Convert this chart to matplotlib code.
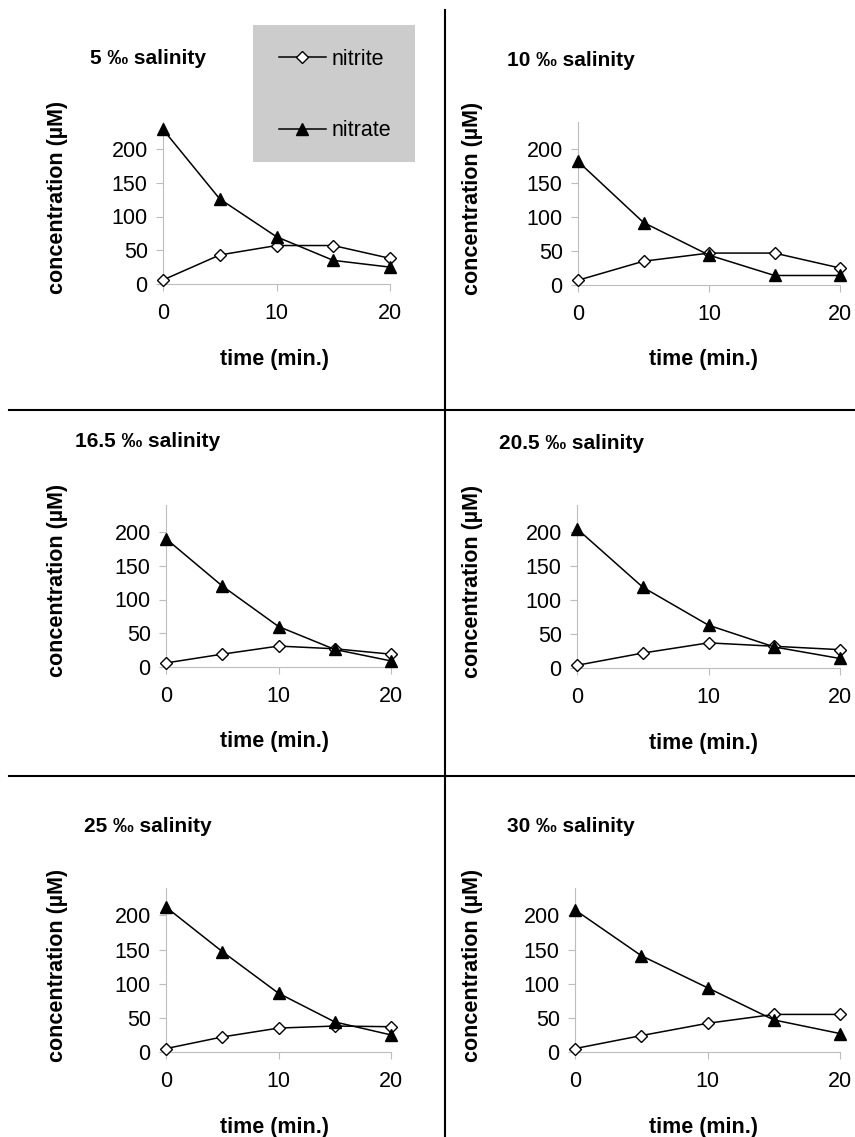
import matplotlib.pyplot as plt
from matplotlib.lines import Line2D
from matplotlib.patches import Rectangle

plt.rcParams['font.family'] = ['Liberation Sans', 'DejaVu Sans']

# time points (min.)
time = [0, 5, 10, 15, 20]

titles = ['5 ‰ salinity', '10 ‰ salinity', '16.5 ‰ salinity',
          '20.5 ‰ salinity', '25 ‰ salinity', '30 ‰ salinity']

# concentrations (uM)
nitrite_5 = [6, 43, 57, 57, 38]
nitrate_5 = [229, 126, 70, 35, 25]
nitrite_10 = [7, 35, 47, 47, 25]
nitrate_10 = [182, 92, 44, 14, 14]
nitrite_16 = [6, 19, 31, 27, 19]
nitrate_16 = [190, 120, 60, 26, 9]
nitrite_20 = [4, 22, 37, 32, 27]
nitrate_20 = [205, 119, 63, 31, 14]
nitrite_25 = [5, 22, 35, 38, 37]
nitrate_25 = [212, 147, 86, 44, 25]
nitrite_30 = [5, 24, 42, 55, 55]
nitrate_30 = [208, 141, 94, 47, 27]

nitrite = [nitrite_5, nitrite_10, nitrite_16, nitrite_20, nitrite_25, nitrite_30]
nitrate = [nitrate_5, nitrate_10, nitrate_16, nitrate_20, nitrate_25, nitrate_30]

W, H = 855, 1137
fig = plt.figure(figsize=(W / 100, H / 100), dpi=100)

def fx(x):
    return x / W

def fy(y):
    return 1 - y / H

# axes boxes in pixels: left, top, right, bottom
boxes = [(163, 122, 390, 284), (578, 122, 840, 285),
         (166, 505, 391, 667), (577, 505, 840, 668),
         (166, 888, 391, 1052), (575, 888, 840, 1052)]
title_x = [148, 571]
ylab_x = [58, 472]
xlab_x = [274, 703]

axis_grey = '#bdbdbd'
handles = None
for i, (l, t, r, b) in enumerate(boxes):
    col = i % 2
    ax = fig.add_axes([fx(l), fy(b), (r - l) / W, (b - t) / H])
    ax.set_facecolor('none')
    ln1, = ax.plot(time, nitrite[i], color='black', lw=1.1, marker='D', ms=6.5,
                   mfc='white', mec='black', mew=1, clip_on=False, zorder=3,
                   label='nitrite')
    ln2, = ax.plot(time, nitrate[i], color='black', lw=1.1, marker='^', ms=9,
                   mfc='black', mec='black', clip_on=False, zorder=3,
                   label='nitrate')
    if handles is None:
        handles = [ln1, ln2]
    ax.set_xlim(0, 20)
    ax.set_ylim(0, 240)
    ax.set_xticks([0, 10, 20])
    ax.set_yticks([0, 50, 100, 150, 200])
    for s in ['top', 'right']:
        ax.spines[s].set_visible(False)
    for s in ['left', 'bottom']:
        ax.spines[s].set_color(axis_grey)
        ax.spines[s].set_linewidth(0.8)
    ax.tick_params(color=axis_grey, labelcolor='black', length=5, width=0.8,
                   labelsize=15.5)
    ax.tick_params(axis='x', pad=9)
    ax.tick_params(axis='y', pad=6)

    fig.text(fx(title_x[col]), fy(b - 225), titles[i], ha='center', va='center',
             fontsize=15, fontweight='bold')
    fig.text(fx(ylab_x[col]), fy(b - 87), 'concentration (µM)', rotation=90,
             ha='center', va='center', fontsize=15.5, fontweight='bold')
    fig.text(fx(xlab_x[col]), fy(b + 75), 'time (min.)', ha='center',
             va='center', fontsize=15.5, fontweight='bold')

# panel dividers
fig.add_artist(Line2D([fx(445), fx(445)], [fy(10), fy(1137)],
                      transform=fig.transFigure, color='black', lw=1.5))
for yy in [410, 776]:
    fig.add_artist(Line2D([fx(9), fx(855)], [fy(yy), fy(yy)],
                          transform=fig.transFigure, color='black', lw=1.5))

# legend box
fig.add_artist(Rectangle((fx(253), fy(162)), 162 / W, 137 / H,
                         transform=fig.transFigure, facecolor='#cccccc',
                         edgecolor='none', zorder=0))
fig.legend(handles, ['nitrite', 'nitrate'], loc='center',
           bbox_to_anchor=(fx(335), fy(95)), frameon=False, fontsize=15.5,
           handlelength=2.2, handletextpad=0.25, labelspacing=2.35)

fig.savefig('out.png', dpi=100)
